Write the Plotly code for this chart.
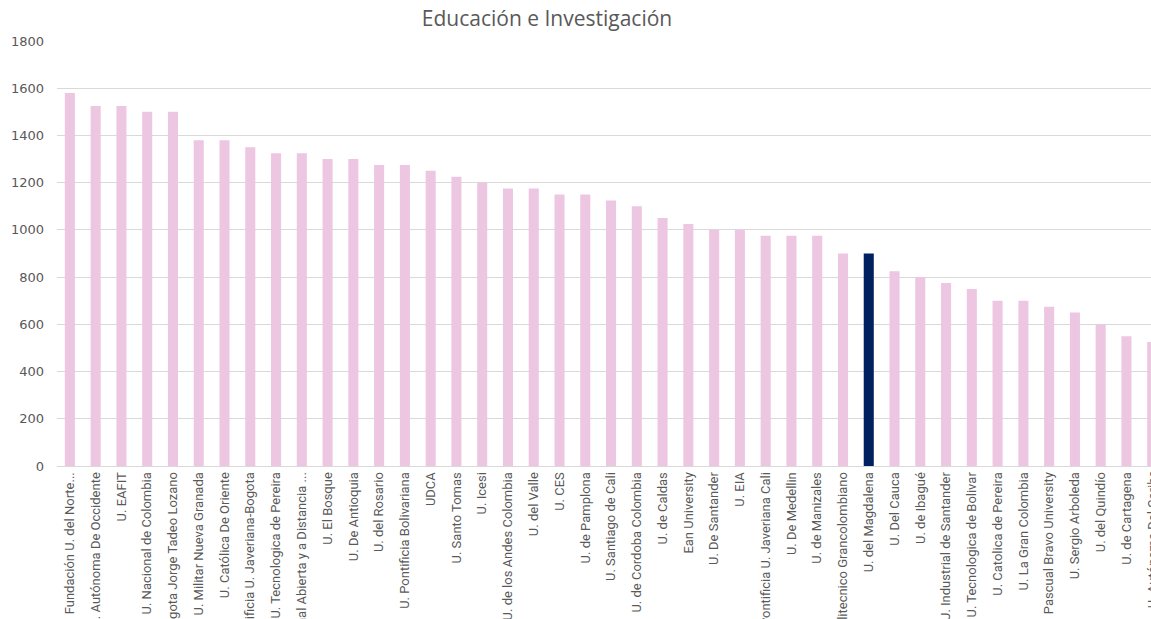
import plotly.graph_objects as go

categories = [
    "Fundación U. del Norte...", "U. Autónoma De Occidente", "U. EAFIT",
    "U. Nacional de Colombia", "U. de Bogota Jorge Tadeo Lozano", "U. Militar Nueva Granada",
    "U. Católica De Oriente", "Pontificia U. Javeriana-Bogota", "U. Tecnologica de Pereira",
    "U. Nacional Abierta y a Distancia ...", "U. El Bosque", "U. De Antioquia",
    "U. del Rosario", "U. Pontificia Bolivariana", "UDCA", "U. Santo Tomas", "U. Icesi",
    "U. de los Andes Colombia", "U. del Valle", "U. CES", "U. de Pamplona",
    "U. Santiago de Cali", "U. de Cordoba Colombia", "U. de Caldas", "Ean University",
    "U. De Santander", "U. EIA", "Pontificia U. Javeriana Cali", "U. De Medellin",
    "U. de Manizales", "Politecnico Grancolombiano", "U. del Magdalena", "U. Del Cauca",
    "U. de Ibagué", "U. Industrial de Santander", "U. Tecnologica de Bolivar",
    "U. Catolica de Pereira", "U. La Gran Colombia", "Pascual Bravo University",
    "U. Sergio Arboleda", "U. del Quindío", "U. de Cartagena", "U. Autónoma Del Caribe",
]
values = [
    1580, 1525, 1525, 1500, 1500, 1380, 1380, 1350, 1325, 1325, 1300, 1300,
    1275, 1275, 1250, 1225, 1200, 1175, 1175, 1150, 1150, 1125, 1100, 1050,
    1025, 1000, 1000, 975, 975, 975, 900, 900, 825, 800, 775, 750, 700, 700,
    675, 650, 600, 550, 525,
]
highlight = "U. del Magdalena"
y_ticks = [0, 200, 400, 600, 800, 1000, 1200, 1400, 1600, 1800]

PINK = "#EDC6E2"
NAVY = "#002060"
GREY = "#595959"
colors = [NAVY if c == highlight else PINK for c in categories]

fig = go.Figure(go.Bar(
    x=categories, y=values, marker=dict(color=colors, line=dict(width=0)),
    width=0.39,
))

W, H = 1151, 619
left, right, top, bottom = 57, 0, 41, 153
plot_w = W - left - right
step = 25.77
n_vis = plot_w / step
tick_font = dict(family="Liberation Sans Narrow, Roboto", size=13, color=GREY)

fig.update_layout(
    width=W, height=H,
    margin=dict(l=left, r=right, t=top, b=bottom),
    paper_bgcolor="white", plot_bgcolor="white",
    showlegend=False,
    title=dict(text="Educación e Investigación", x=547 / W, xref="container",
               xanchor="center", y=1 - 19 / H, yref="container", yanchor="middle",
               font=dict(family="Open Sans", size=21, color=GREY)),
)
fig.update_xaxes(
    type="category", range=[-0.5, -0.5 + n_vis], tickangle=-90,
    tickfont=tick_font,
    showgrid=False, showline=True, linecolor="#D9D9D9", linewidth=1,
    ticks="", automargin=False, ticklabelstandoff=0,
)
fig.update_yaxes(
    range=[0, 1800], tickvals=y_ticks, showgrid=True, gridcolor="#D9D9D9", gridwidth=1,
    zeroline=False, showline=False, ticks="",
    tickfont=dict(family="DejaVu Sans", size=13, color=GREY),
    automargin=False, ticklabelstandoff=12,
)

# the last category sits on the right edge: its tick label is only partly visible
last_idx = len(categories) - 1
fig.add_annotation(
    x=(last_idx + 0.5) / n_vis, y=0, xref="paper", yref="y", text=categories[-1],
    textangle=-90, showarrow=False, xanchor="center", yanchor="top", yshift=-2,
    font=tick_font,
)

fig.write_html(
    "out.html",
    config={"displayModeBar": False},
    post_script="document.body.style.margin='0';document.body.style.overflow='hidden';",
)
